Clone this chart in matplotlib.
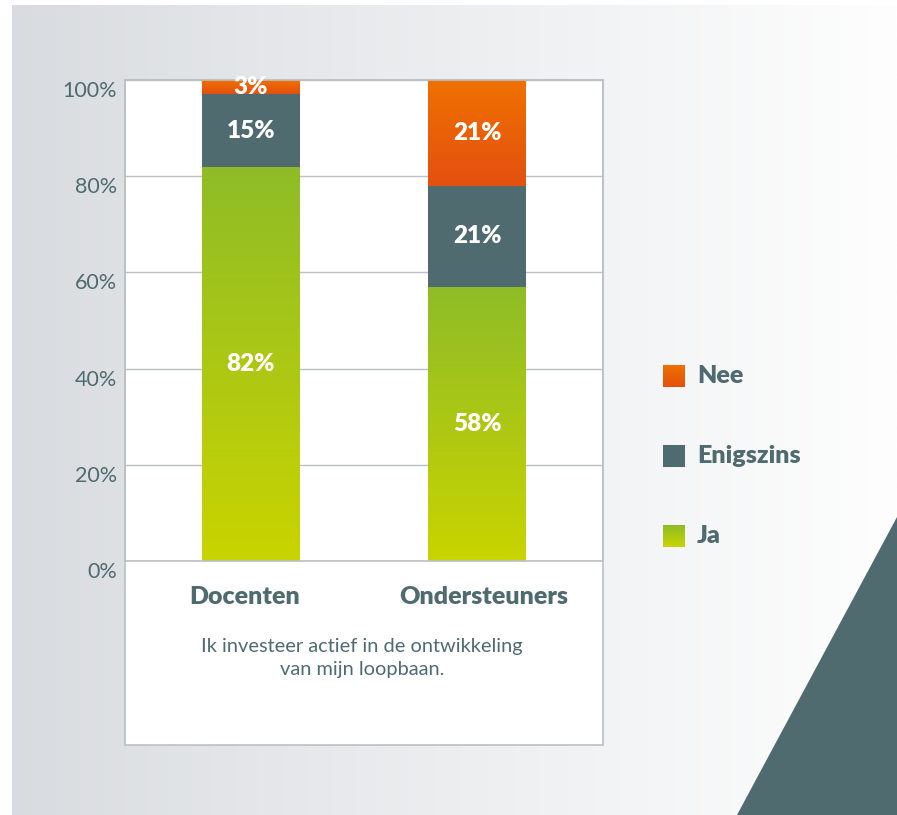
import matplotlib.pyplot as plt
import numpy as np
from matplotlib.patches import Rectangle, Polygon
import matplotlib.transforms as mtransforms

# data
groups = ['Docenten', 'Ondersteuners']
ja = [82, 57]
enigszins = [15, 21]
nee = [3, 22]
ja_labels = ['82%', '58%']
enigszins_labels = ['15%', '21%']
nee_labels = ['3%', '21%']
legend_names = ['Nee', 'Enigszins', 'Ja']
yticks = [0, 20, 40, 60, 80, 100]
ytick_labels = ['0%', '20%', '40%', '60%', '80%', '100%']
caption = 'Ik investeer actief in de ontwikkeling\nvan mijn loopbaan.'

TEAL = '#4f6b70'
GRID = '#b9c1c5'
GREEN = ('#8fbc27', '#c9d400')   # top, bottom
ORANGE = ('#ef7100', '#e4500f')

plt.rcParams['font.family'] = ['Lato', 'DejaVu Sans']


def gradient(top, bottom, n=256):
    c0 = np.array(plt.matplotlib.colors.to_rgb(bottom))
    c1 = np.array(plt.matplotlib.colors.to_rgb(top))
    t = np.linspace(0, 1, n)[:, None]
    return (c0 + (c1 - c0) * t)[:, None, :]


def fill_gradient(ax, bars, colors):
    for b in bars:
        x0, y0 = b.get_x(), b.get_y()
        im = ax.imshow(gradient(*colors), extent=[x0, x0 + b.get_width(), y0, y0 + b.get_height()],
                       origin='lower', aspect='auto', interpolation='bilinear', zorder=2)
        im.set_clip_path(b)


fig = plt.figure(figsize=(8.97, 8.15), dpi=100)

# background in pixel coordinates
bg = fig.add_axes([0, 0, 1, 1], zorder=-10)
bg.set_xlim(0, 897)
bg.set_ylim(815, 0)
bg.axis('off')
h = np.linspace(0, 1, 512)
left_c = np.array([216, 219, 223]) / 255
right_c = np.array([254, 254, 254]) / 255
panel = (left_c + (right_c - left_c) * h[:, None] ** 0.9)[None, :, :]
bg.imshow(panel, extent=[12, 897, 815, 5], aspect='auto', interpolation='bilinear')
bg.add_patch(Polygon([[897, 517], [737, 815], [897, 815]], closed=True, color=TEAL, lw=0))
bg.add_patch(Rectangle((125, 80), 478, 665, facecolor='white', edgecolor=GRID, lw=1.2))
bg.text(362, 658, caption, ha='center', va='center', fontsize=14.4, color=TEAL, linespacing=1.4)

# legend
legend_cols = [ORANGE, (TEAL, TEAL), GREEN]
for i, (name, cols) in enumerate(zip(legend_names, legend_cols)):
    yc = 376 + i * 80
    bg.imshow(gradient(*cols)[::-1], extent=[663, 685, yc + 11, yc - 11], aspect='auto',
              interpolation='bilinear')
    bg.text(697, yc, name, ha='left', va='center', fontsize=18, fontweight='heavy', color=TEAL)
bg.set_xlim(0, 897)
bg.set_ylim(815, 0)

# main chart
ax = fig.add_axes([125 / 897, 1 - 561 / 815, 478 / 897, 481 / 815])
ax.patch.set_alpha(0)
x = np.arange(len(groups))
w = 0.43
b_ja = ax.bar(x, ja, w, color='none', zorder=2)
fill_gradient(ax, b_ja, GREEN)
bottom2 = np.array(ja)
ax.bar(x, enigszins, w, bottom=bottom2, color=TEAL, zorder=2)
bottom3 = bottom2 + np.array(enigszins)
b_nee = ax.bar(x, nee, w, bottom=bottom3, color='none', zorder=2)
fill_gradient(ax, b_nee, ORANGE)

for vals, bots, labs in [(ja, [0, 0], ja_labels), (enigszins, bottom2, enigszins_labels),
                         (nee, bottom3, nee_labels)]:
    for xi, v, b0, lab in zip(x, vals, bots, labs):
        ax.text(xi, b0 + v / 2, lab, ha='center', va='center', color='white',
                fontsize=17.5, fontweight='heavy', zorder=5)

ax.set_xlim(-0.5575, 1.5575)
ax.set_ylim(0, 100)
ax.set_yticks(yticks)
ax.set_yticklabels(ytick_labels)
ax.yaxis.grid(True, color=GRID, lw=1)
ax.set_axisbelow(True)
ax.tick_params(axis='y', length=0, pad=6, labelsize=15.5, labelcolor=TEAL)
off = mtransforms.ScaledTranslation(0, -9 / 100, fig.dpi_scale_trans)
for lab in ax.get_yticklabels():
    lab.set_transform(lab.get_transform() + off)
ax.set_xticks(x)
ax.set_xticklabels(groups, fontweight='heavy', fontsize=18, color=TEAL)
ax.tick_params(axis='x', length=0, pad=18)
# labels sit slightly outward from the bar centres in the original
for lab, dx in zip(ax.get_xticklabels(), [-6, 7]):
    lab.set_transform(lab.get_transform() +
                      mtransforms.ScaledTranslation(dx / 100, 0, fig.dpi_scale_trans))
for s in ax.spines.values():
    s.set_color(GRID)
    s.set_linewidth(1.2)

fig.savefig('out.png', dpi=100)
